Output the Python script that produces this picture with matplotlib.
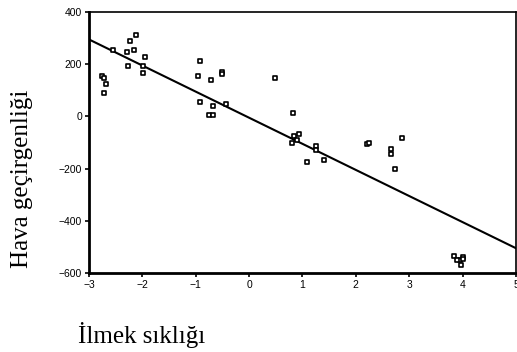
import matplotlib
matplotlib.use("Agg")
import matplotlib.pyplot as plt

# Ilmek sikligi (x) and Hava gecirgenligi (y)
x_vals = [-2.75, -2.72, -2.68, -2.71, -2.55, -2.29, -2.26, -2.23, -2.15, -2.11,
          -1.98, -1.98, -1.95, -0.96, -0.91, -0.91, -0.72, -0.67, -0.75, -0.67,
          -0.51, -0.51, -0.43, 0.48, 0.83, 0.85, 0.93, 0.80, 0.89, 1.25,
          1.25, 1.09, 1.41, 2.20, 2.25, 2.66, 2.66, 2.86, 2.73, 3.84,
          3.95, 4.01, 4.01, 3.97, 3.90]
y_vals = [153, 147, 123, 89, 253, 245, 195, 287, 253, 311,
          195, 167, 227, 153, 212, 55, 138, 40, 6, 6,
          172, 162, 47, 147, 14, -74, -68, -101, -92, -115,
          -127, -175, -167, -107, -100, -125, -143, -84, -200, -536,
          -552, -539, -547, -571, -552]

# fitted line: y = intercept + slope * x
fit_intercept = -5
fit_slope = -100
line_x = [-3, 5]

x_ticks = [-3, -2, -1, 0, 1, 2, 3, 4, 5]
y_ticks = [-600, -400, -200, 0, 200, 400]

fig = plt.figure(figsize=(5.17, 3.52), dpi=100)
ax = fig.add_axes([0.172, 0.2244, 0.826, 0.7415])

ax.scatter(x_vals, y_vals, marker="s", s=10, facecolors="white",
           edgecolors="black", linewidths=1.2, zorder=3)
ax.plot(line_x, [fit_intercept + fit_slope * v for v in line_x],
        color="black", lw=1.5, zorder=2)

ax.set_xlim(-3, 5)
ax.set_ylim(-600, 400)
ax.set_xticks(x_ticks)
ax.set_yticks(y_ticks)
ax.tick_params(direction="out", length=3, width=1.2, labelsize=7.5, pad=2)
for lab in ax.get_xticklabels() + ax.get_yticklabels():
    lab.set_family("Liberation Sans")

ax.spines["left"].set_linewidth(2)
ax.spines["bottom"].set_linewidth(2)
ax.spines["top"].set_linewidth(1.2)
ax.spines["right"].set_linewidth(1.2)

fig.text(0.043, 0.491, "Hava geçirgenliği", rotation=90, ha="center",
         va="center", family="Liberation Serif", fontsize=18)
fig.text(0.151, 0.048, "İlmek sıklığı", ha="left", va="center",
         family="Liberation Serif", fontsize=18)

fig.savefig("out.png", dpi=100)
